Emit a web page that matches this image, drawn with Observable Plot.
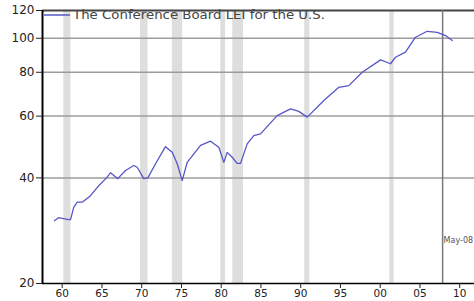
<!DOCTYPE html>
<html><head><meta charset="utf-8">
<script src="https://cdn.jsdelivr.net/npm/d3@7"></script>
<script src="https://cdn.jsdelivr.net/npm/@observablehq/plot@0.6"></script>
<style>html,body{margin:0;padding:0;background:#fff} svg{display:block}</style>
</head><body><div id="chart"></div>
<script>
const years = [1959.03,1959.53,1960.16,1960.79,1961.04,1961.46,1961.89,1962.52,1963.56,1964.6,1965.66,1966.08,1966.99,1967.96,1969.0,1969.43,1970.26,1970.77,1971.74,1972.99,1973.84,1974.47,1975.09,1975.72,1977.4,1978.65,1979.7,1980.33,1980.75,1981.38,1982.0,1982.43,1983.27,1984.1,1984.94,1987.04,1988.72,1989.76,1990.82,1992.91,1994.79,1996.05,1997.74,2000.04,2001.3,2001.92,2003.18,2004.44,2005.91,2007.17,2008.21,2009.06];
const lei = [30.2,30.8,30.6,30.4,30.4,33.0,34.1,34.1,35.6,38.0,40.2,41.4,39.8,42.0,43.4,42.9,39.8,40.0,43.9,49.1,47.3,43.9,39.3,44.3,49.5,50.9,48.9,44.3,47.3,45.8,44.0,44.0,50.0,52.8,53.4,60.2,62.9,61.9,59.6,66.5,72.5,73.3,80.0,86.8,84.6,88.3,91.3,100.7,104.7,104.0,101.8,98.5];
const recStart = [1960.2,1969.85,1973.85,1979.95,1981.45,1990.5,2001.2];
const recEnd = [1961.1,1970.8,1975.15,1980.55,1982.8,1991.15,2001.75];
const latestMark = 2007.85;
const xTicks = [1960,1965,1970,1975,1980,1985,1990,1995,2000,2005,2010];
const yTicks = [20,40,60,80,100,120];
const gridTicks = [40,60,80,100];
const seriesLabel = "The Conference Board LEI for the U.S.";
const latestLabel = "May-08";

const data = years.map((y,i)=>({year:y, value:lei[i]}));
const rec = recStart.map((s,i)=>({s, e:recEnd[i]}));
const lineColor = "#5656c8";

const plot = Plot.plot({
  width:474, height:301,
  marginLeft:42, marginRight:0, marginTop:10, marginBottom:18,
  style:{fontFamily:"DejaVu Sans", background:"#fff", color:"#222", overflow:"hidden"},
  x:{domain:[1957.52, 2011.86]},
  y:{type:"log", domain:[20,120]},
  marks:[
    Plot.rectX(rec,{x1:"s", x2:"e", fill:"#dedede"}),
    Plot.ruleY(gridTicks,{stroke:"#9c9c9c", strokeWidth:1.5}),
    Plot.ruleY([120],{stroke:"#444", strokeWidth:2}),
    Plot.ruleX([latestMark],{stroke:"#7a7a7a", strokeWidth:1.5}),
    Plot.line(data,{x:"year", y:"value", stroke:lineColor, strokeWidth:1.3}),
    Plot.ruleX([1957.52],{stroke:"#000", strokeWidth:2}),
    Plot.ruleY([20],{stroke:"#000", strokeWidth:1.5}),
    Plot.axisX({ticks:xTicks, tickFormat:d=>String(d%100).padStart(2,"0"), tickSize:5, tickPadding:1, fontSize:10.5, label:null}),
    Plot.axisY({ticks:yTicks, tickFormat:d=>String(d), tickSize:6, tickPadding:2, fontSize:12, label:null}),
    Plot.text([latestLabel],{x:()=>latestMark, frameAnchor:"bottom", dy:-41, dx:1, textAnchor:"start", fontSize:8, fill:"#555"})
  ]
});

const svg = d3.select(plot);
svg.append("line").attr("x1",44).attr("x2",70).attr("y1",15).attr("y2",15)
  .attr("stroke",lineColor).attr("stroke-width",1.5);
svg.append("text").attr("x",73).attr("y",19).attr("font-size",11.5).attr("fill","#444")
  .attr("text-anchor","start").attr("textLength",252).attr("lengthAdjust","spacingAndGlyphs")
  .text(seriesLabel);

document.getElementById("chart").appendChild(plot);
</script>
</body></html>
